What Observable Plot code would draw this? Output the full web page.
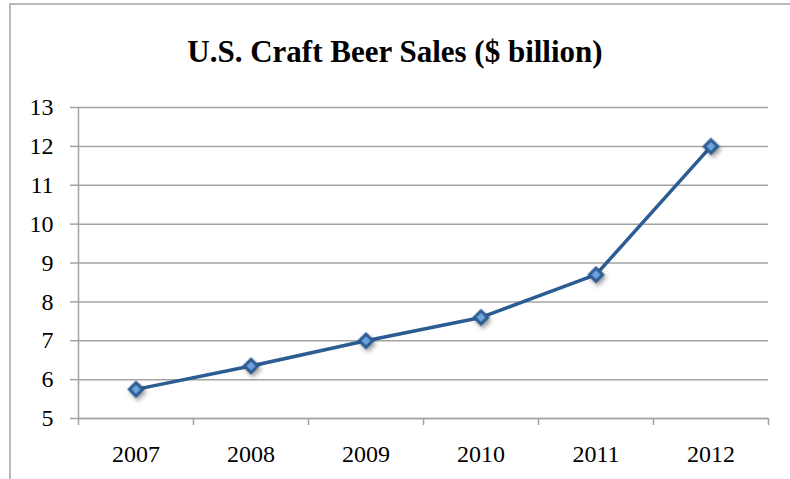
<!DOCTYPE html>
<html>
<head>
<meta charset="utf-8">
<script src="https://cdn.jsdelivr.net/npm/d3@7"></script>
<script src="https://cdn.jsdelivr.net/npm/@observablehq/plot@0.6"></script>
<style>
  html, body { margin: 0; padding: 0; background: #fff; }
  #wrap { position: relative; width: 790px; height: 479px; overflow: hidden; }
  #frame { position: absolute; left: 9px; top: 3px; width: 900px; height: 600px; border: 2px solid #b9b9b9; box-sizing: border-box; }
  #title { position: absolute; left: 0; top: 34px; width: 790px; text-align: center;
           font-family: "Liberation Serif", "Times New Roman", Times, "DejaVu Serif", serif; font-weight: bold; font-size: 31px; color: #000; }
  #chart { position: absolute; left: 0; top: 0; }
</style>
</head>
<body>
<div id="wrap">
  <div id="frame"></div>
  <div id="chart"></div>
  <div id="title">U.S. Craft Beer Sales ($ billion)</div>
</div>
<script>
const years = [2007, 2008, 2009, 2010, 2011, 2012];
const sales = [5.75, 6.35, 7.0, 7.6, 8.7, 12.0];
const yTicks = [5, 6, 7, 8, 9, 10, 11, 12, 13];
const boundaries = [2006.5, 2007.5, 2008.5, 2009.5, 2010.5, 2011.5, 2012.5];

const data = years.map((y, i) => ({year: y, sales: sales[i]}));
const grid = "#a3a3a3";
const blue = "#2b5c92";

const svg = Plot.plot({
  width: 790,
  height: 479,
  marginLeft: 78,
  marginRight: 22,
  marginTop: 107,
  marginBottom: 61,
  x: {type: "linear", domain: [2006.5, 2012.5]},
  y: {domain: [5, 13]},
  style: {background: "transparent", fontFamily: "'Liberation Serif', 'Times New Roman', Times, 'DejaVu Serif', serif", fontSize: "24px", color: "#000", overflow: "visible"},
  marks: [
    Plot.gridY(yTicks, {stroke: grid, strokeOpacity: 1, strokeWidth: 1.5}),
    Plot.axisY(yTicks, {tickSize: 8, tickPadding: 17, stroke: grid, strokeWidth: 1.5, fill: "#000", label: null, tickFormat: d => String(d)}),
    Plot.axisX(boundaries, {tickSize: 7, stroke: grid, strokeWidth: 1.5, label: null, tickFormat: () => ""}),
    Plot.axisX(years, {tickSize: 0, tickPadding: 26, fill: "#000", label: null, tickFormat: d => String(d)}),
    Plot.ruleX([2006.5], {stroke: grid, strokeWidth: 1.5}),
    Plot.ruleY([5], {stroke: grid, strokeWidth: 1.5}),
    Plot.line(data, {x: "year", y: "sales", stroke: blue, strokeWidth: 3.5}),
    Plot.dot(data, {x: "year", y: "sales", symbol: "diamond2", r: 6, fill: "#6fa2de", stroke: blue, strokeWidth: 3})
  ]
});
document.getElementById("chart").appendChild(svg);
svg.querySelectorAll('g[aria-label="dot"]').forEach(g => {
  g.style.filter = "drop-shadow(2px 3px 2px rgba(0,0,0,0.35))";
});
</script>
</body>
</html>
